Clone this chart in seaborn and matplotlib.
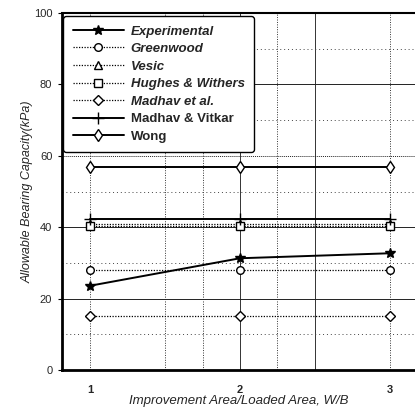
import matplotlib
matplotlib.use("Agg")
import matplotlib.pyplot as plt
import seaborn as sns
import pandas as pd

sns.set_theme(style="white")
plt.rcParams["font.family"] = ["Liberation Sans", "DejaVu Sans"]

# W/B ratio and allowable bearing capacity (kPa) for each method
ratio = [1, 2, 3]
experimental = [23.6, 31.3, 32.7]
greenwood = [28.0, 28.0, 28.0]
vesic = [41.0, 41.0, 41.0]
hughes_withers = [40.3, 40.3, 40.3]
madhav_et_al = [15.0, 15.0, 15.0]
madhav_vitkar = [42.3, 42.3, 42.3]
wong = [56.8, 56.8, 56.8]

dots = (0, (1, 1.2))
series = [
    ("Experimental", experimental, "*", "-", 1.4, 7.5),
    ("Greenwood", greenwood, "o", dots, 0.9, 5.5),
    ("Vesic", vesic, "^", dots, 0.9, 5.5),
    ("Hughes & Withers", hughes_withers, "s", dots, 0.9, 5.5),
    ("Madhav et al.", madhav_et_al, "D", dots, 0.9, 5.2),
    ("Madhav & Vitkar", madhav_vitkar, "+", "-", 1.4, 8),
    ("Wong", wong, "d", "-", 1.4, 6),
]

fig = plt.figure(figsize=(4.15, 4.08), dpi=100)
ax = fig.add_axes([62 / 415, 38 / 408, 353 / 415, 357 / 408])

for name, vals, mk, ls, lw, ms in series:
    df = pd.DataFrame({"ratio": ratio, "capacity": vals})
    filled = mk in ("*", "+")
    sns.lineplot(
        data=df, x="ratio", y="capacity", ax=ax, label=name,
        color="black", linestyle=ls, linewidth=lw, marker=mk, markersize=ms,
        markerfacecolor="black" if filled else "white",
        markeredgecolor="black", markeredgewidth=1.0,
    )

ax.set_xlim(0.813, 3.167)
ax.set_ylim(0, 100)
ax.set_xticks([1, 2, 3])
ax.set_xticks([1.5, 1.75, 2.25, 2.5], minor=True)
ax.set_yticks([0, 20, 40, 60, 80, 100])
ax.set_yticks([10, 30, 50, 70, 90], minor=True)

# grid: solid and dotted rules
ax.grid(True, which="major", axis="y", color="#222222", linewidth=0.7, linestyle="-")
ax.grid(True, which="minor", axis="y", color="#444444", linewidth=0.7, linestyle=(0, (1, 3)))
ax.grid(True, which="both", axis="x", color="#333333", linewidth=0.7, linestyle=(0, (1, 1.5)))
for tv, t in zip(ax.get_yticks(), ax.yaxis.get_major_ticks()):
    if tv == 60:
        t.gridline.set_linestyle((0, (1, 1)))
for tv, t in zip(ax.get_xticks(), ax.xaxis.get_major_ticks()):
    if tv == 2:
        t.gridline.set_linestyle("-")
for tv, t in zip(ax.get_xticks(minor=True), ax.xaxis.get_minor_ticks()):
    if tv == 2.5:
        t.gridline.set_linestyle("-")
ax.set_axisbelow(True)

for side in ("left", "bottom", "top"):
    ax.spines[side].set_color("black")
ax.spines["left"].set_linewidth(2.0)
ax.spines["bottom"].set_linewidth(2.0)
ax.spines["top"].set_linewidth(1.5)
ax.spines["right"].set_visible(False)

ax.tick_params(axis="y", which="major", left=True, length=3, width=0.8, color="black",
               labelsize=8, pad=4)
ax.tick_params(axis="y", which="minor", left=False)
ax.tick_params(axis="x", which="both", bottom=False, labelsize=8, pad=5)
for lbl in ax.get_xticklabels():
    lbl.set_fontweight("bold")

ax.set_xlabel("Improvement Area/Loaded Area, W/B", fontsize=9.5, style="italic", labelpad=0)
ax.set_ylabel("Allowable Bearing Capacity(kPa)", fontsize=9, style="italic", labelpad=0)

leg = ax.legend(
    loc="upper left", bbox_to_anchor=(0.0, 0.995), borderaxespad=0.1,
    frameon=True, fancybox=True, edgecolor="black", facecolor="white", framealpha=1,
    handlelength=3.9, handletextpad=0.5, labelspacing=0.4, borderpad=0.7,
    prop={"size": 9.5, "weight": "bold"},
)
leg.get_frame().set_linewidth(1.0)
for i, t in enumerate(leg.get_texts()):
    if i < 5:
        t.set_style("italic")

fig.savefig("out.png", dpi=100)
